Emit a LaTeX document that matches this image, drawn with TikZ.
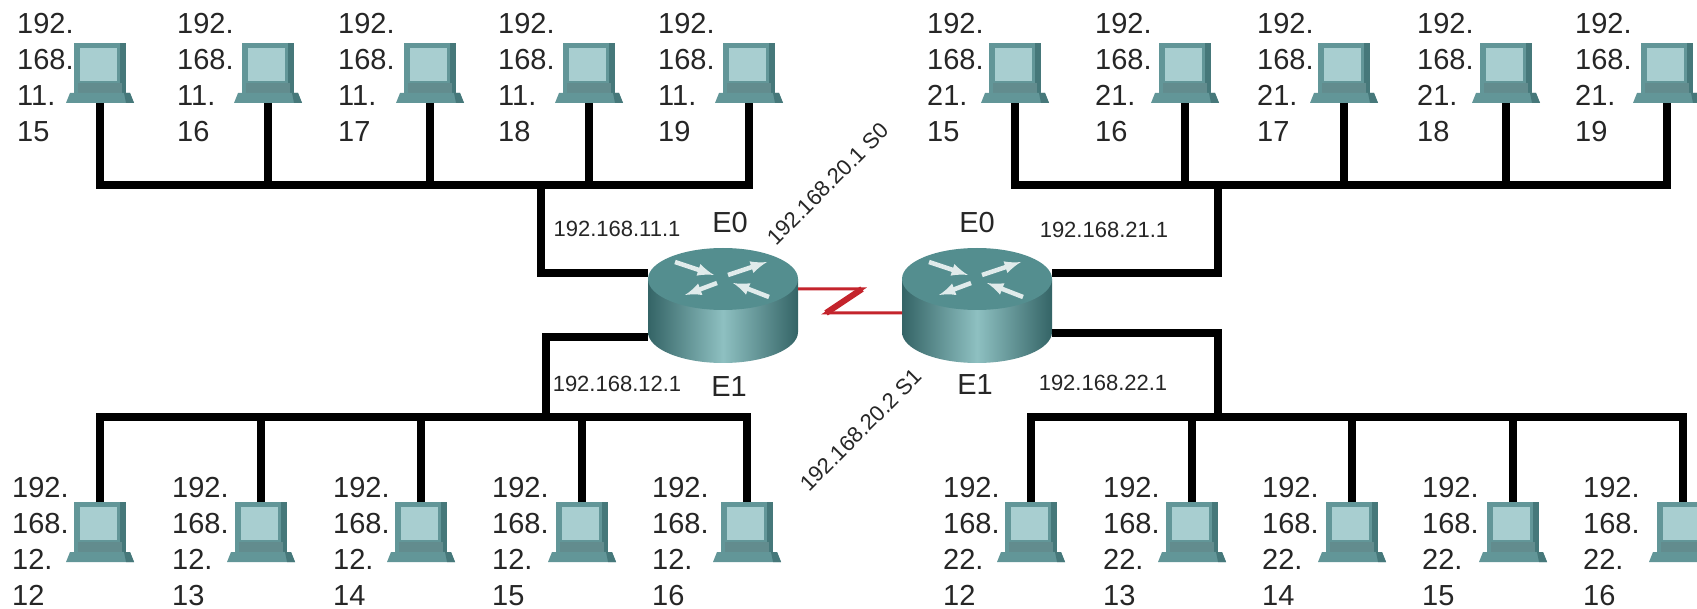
\documentclass[tikz,border=0pt]{standalone}
\usepackage{fontspec}
\setmainfont{Liberation Sans}
\usepackage{tikz}

\definecolor{pcframe}{RGB}{98,150,152}
\definecolor{pcscreen}{RGB}{168,206,208}
\definecolor{pcdark}{RGB}{70,120,122}
\definecolor{rtop}{RGB}{84,142,143}
\definecolor{rlight}{RGB}{142,192,193}
\definecolor{rdark}{RGB}{52,100,102}
\definecolor{serialred}{RGB}{196,36,44}

\begin{document}
\begin{tikzpicture}[x=1pt,y=-1pt,
  wire/.style={line width=7.5pt,line join=miter},
  serial/.style={serialred,line width=3pt},
  cross/.style={white!82!rtop,line width=4.5pt,-latex},
  ip/.style={inner sep=0pt,align=left,anchor=north west,text=black!85,
    font=\fontsize{29}{36}\selectfont},
  port/.style={inner sep=0pt,text=black!85,font=\fontsize{29}{30}\selectfont},
  addr/.style={inner sep=0pt,text=black!85,font=\fontsize{22}{24}\selectfont},
  pc/.pic={
    \fill[pcframe] (-26,0) rectangle (26,50);
    \fill[pcdark] (20,0) rectangle (26,50);
    \fill[pcscreen] (-20,5) rectangle (17,38);
    \fill[pcdark!85] (-22,40) rectangle (22,50);
    \fill[pcframe] (-30,50) -- (30,50) -- (34,60) -- (-34,60) -- cycle;
    \fill[pcdark] (24,50) -- (30,50) -- (34,60) -- (26,60) -- cycle;
    \coordinate (-top) at (0,0);
    \coordinate (-bot) at (0,60);
  },
  router/.pic={
    \shade[left color=rdark,right color=rdark,middle color=rlight]
      (-75,-26) -- (-75,27) arc[start angle=180,end angle=360,x radius=75pt,y radius=31pt]
      -- (75,-26) -- cycle;
    \fill[rtop] (0,-26) ellipse[x radius=75pt,y radius=31pt];
    \draw[cross] (-48,-43) -- (-9,-30);
    \draw[cross] (46,-8) -- (10,-22);
    \draw[cross] (5,-30) -- (44,-43);
    \draw[cross] (-6,-22) -- (-38,-10);
    \coordinate (-w0) at (-75,-32);
    \coordinate (-w1) at (-75,32);
    \coordinate (-e0) at (75,-32);
    \coordinate (-e1) at (75,28);
    \coordinate (-sl) at (-75,8);
    \coordinate (-sr) at (75,-16);
  }]
\useasboundingbox (0,0) rectangle (1697,609);
\clip (0,0) rectangle (1697,609);
\fill[white] (0,0) rectangle (1697,609);

\coordinate (busT) at (0,185);
\coordinate (busB) at (0,417);
\coordinate (jL0) at (541,185);
\coordinate (jL1) at (546,417);
\coordinate (jR0) at (1218,185);
\coordinate (jR1) at (1218,417);

% routers and serial link
\pic (rL) at (723,305) {router};
\pic (rR) at (977,305) {router};
\draw[serial] (rL-sr) -- (862,289) coordinate (z1) -- (826,313) coordinate (z2) -- (rR-sl);
\draw[serial,line width=6pt] (z1) -- (z2);
\draw[wire] (rL-w0) -| (jL0);
\draw[wire] (rL-w1) -| (jL1);
\draw[wire] (rR-e0) -| (jR0);
\draw[wire] (rR-e1) -| (jR1);

\node[port] (eL0) at (730,223) {E0};
\node[port] (eL1) at (729,387) {E1};
\node[port] (eR0) at (977,223) {E0};
\node[port] (eR1) at (975,385) {E1};
\node[addr] (aL0) at (617,229) {192.168.11.1};
\node[addr] (aL1) at (617,384) {192.168.12.1};
\node[addr] (aR0) at (1104,230) {192.168.21.1};
\node[addr] (aR1) at (1103,383) {192.168.22.1};
\node[addr,rotate=45] (sL) at (828,184) {192.168.20.1 S0};
\node[addr,rotate=45] (sR) at (861,430) {192.168.20.2 S1};

% top left lan
\pic (a1) at (100,43) {pc};
\pic (a2) at (268,43) {pc};
\pic (a3) at (430,43) {pc};
\pic (a4) at (589,43) {pc};
\pic (a5) at (749,43) {pc};
\node[ip] (la1) at (17,13) {192.\\168.\\11.\\15};
\node[ip] (la2) at (177,13) {192.\\168.\\11.\\16};
\node[ip] (la3) at (338,13) {192.\\168.\\11.\\17};
\node[ip] (la4) at (498,13) {192.\\168.\\11.\\18};
\node[ip] (la5) at (658,13) {192.\\168.\\11.\\19};
\draw[wire] (a1-bot) |- (a5-bot |- busT) -- (a5-bot);
\draw[wire] (a2-bot) -- (a2-bot |- busT);
\draw[wire] (a3-bot) -- (a3-bot |- busT);
\draw[wire] (a4-bot) -- (a4-bot |- busT);

% top right lan
\pic (b1) at (1015,43) {pc};
\pic (b2) at (1185,43) {pc};
\pic (b3) at (1344,43) {pc};
\pic (b4) at (1506,43) {pc};
\pic (b5) at (1667,43) {pc};
\node[ip] (lb1) at (927,13) {192.\\168.\\21.\\15};
\node[ip] (lb2) at (1095,13) {192.\\168.\\21.\\16};
\node[ip] (lb3) at (1257,13) {192.\\168.\\21.\\17};
\node[ip] (lb4) at (1417,13) {192.\\168.\\21.\\18};
\node[ip] (lb5) at (1575,13) {192.\\168.\\21.\\19};
\draw[wire] (b1-bot) |- (b5-bot |- busT) -- (b5-bot);
\draw[wire] (b2-bot) -- (b2-bot |- busT);
\draw[wire] (b3-bot) -- (b3-bot |- busT);
\draw[wire] (b4-bot) -- (b4-bot |- busT);

% bottom left lan
\pic (c1) at (100,502) {pc};
\pic (c2) at (261,502) {pc};
\pic (c3) at (421,502) {pc};
\pic (c4) at (582,502) {pc};
\pic (c5) at (747,502) {pc};
\node[ip] (lc1) at (12,477) {192.\\168.\\12.\\12};
\node[ip] (lc2) at (172,477) {192.\\168.\\12.\\13};
\node[ip] (lc3) at (333,477) {192.\\168.\\12.\\14};
\node[ip] (lc4) at (492,477) {192.\\168.\\12.\\15};
\node[ip] (lc5) at (652,477) {192.\\168.\\12.\\16};
\draw[wire] (c1-top) |- (c5-top |- busB) -- (c5-top);
\draw[wire] (c2-top) -- (c2-top |- busB);
\draw[wire] (c3-top) -- (c3-top |- busB);
\draw[wire] (c4-top) -- (c4-top |- busB);

% bottom right lan
\pic (d1) at (1031,502) {pc};
\pic (d2) at (1192,502) {pc};
\pic (d3) at (1352,502) {pc};
\pic (d4) at (1513,502) {pc};
\pic (d5) at (1683,502) {pc};
\node[ip] (ld1) at (943,477) {192.\\168.\\22.\\12};
\node[ip] (ld2) at (1103,477) {192.\\168.\\22.\\13};
\node[ip] (ld3) at (1262,477) {192.\\168.\\22.\\14};
\node[ip] (ld4) at (1422,477) {192.\\168.\\22.\\15};
\node[ip] (ld5) at (1583,477) {192.\\168.\\22.\\16};
\draw[wire] (d1-top) |- (d5-top |- busB) -- (d5-top);
\draw[wire] (d2-top) -- (d2-top |- busB);
\draw[wire] (d3-top) -- (d3-top |- busB);
\draw[wire] (d4-top) -- (d4-top |- busB);
\end{tikzpicture}
\end{document}
